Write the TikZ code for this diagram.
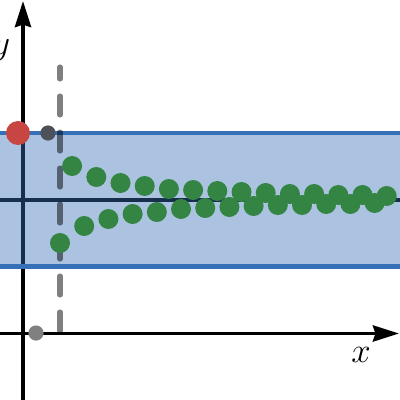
\documentclass[tikz,border=0pt]{standalone}
\usetikzlibrary{arrows.meta}

\definecolor{bandblue}{RGB}{54,113,184}
\definecolor{dotgreen}{RGB}{52,133,68}
\definecolor{dotred}{RGB}{200,70,65}
\definecolor{dotgray}{RGB}{128,128,128}
\definecolor{dotdark}{RGB}{77,82,90}

\begin{document}
\begin{tikzpicture}[
	x = 0.025cm, y = -0.025cm, % one unit = one pixel of the sketch
	> = {Stealth[length=0.65cm, width=0.4cm, inset=0.06cm]}, % arrow head style
	axis/.style={line width=2.8pt, black},
	bound/.style={line width=3.2pt, bandblue},
	limit/.style={line width=3.5pt, black},
	guide/.style={line width=3.6pt, black, draw opacity=0.5, line cap=round, dash pattern=on 13.5pt off 12.1pt},
	G/.style={circle, fill=dotgreen, inner sep=0pt, minimum size=0.5cm},  % terms of the sequence
	R/.style={circle, fill=dotred, inner sep=0pt, minimum size=0.6cm},
	Q/.style={circle, fill=dotgray, inner sep=0pt, minimum size=0.38cm},
	Qd/.style={Q, fill=dotdark},
	lbl/.style={font=\fontsize{31}{36}\selectfont, inner sep=0pt, anchor=base},
	]
	\useasboundingbox (0,0) rectangle (400,400);

	% Axes
	\coordinate (ybot) at (23,400);
	\coordinate (ytop) at (23,1);
	\coordinate (xlft) at (0,333.5);
	\coordinate (xrgt) at (399,333.5);
	\draw[axis, ->] (ybot) -- (ytop);
	\draw[axis, ->] (xlft) -- (xrgt);
	\node[lbl] (ylab) at (1,55) {$y$};
	\node[lbl] (xlab) at (361,362) {$x$};

	% Limit and the band round it
	\coordinate (limL) at (0,200);
	\coordinate (limR) at (400,200);
	\draw[limit] (limL) -- (limR);
	\coordinate (bandTL) at (0,133);
	\coordinate (bandTR) at (400,133);
	\coordinate (bandBL) at (0,266.5);
	\coordinate (bandBR) at (400,266.5);
	\fill[bandblue, fill opacity=0.42] (bandTL) rectangle (bandBR);
	\draw[bound] (bandTL) -- (bandTR);
	\draw[bound] (bandBL) -- (bandBR);

	% Threshold index
	\coordinate (thrB) at (60,331);
	\coordinate (thrT) at (60,67);
	\draw[guide] (thrB) -- (thrT);

	% Marked points
	\node[Q] (n0) at (36,333) {};
	\node[Qd] (e0) at (48,133) {};
	\node[R] (eps) at (18,133) {};

	% Terms of the sequence
	\foreach \y [count=\k] in {243,166,226,177,219,183,214,186,212,189,209,190,208,191,
		207,192,206,193,205,194,205,194,204,195,204,195,203,196}
		\node[G] (a\k) at ({60+12.1*(\k-1)},\y) {};

\end{tikzpicture}
\end{document}
